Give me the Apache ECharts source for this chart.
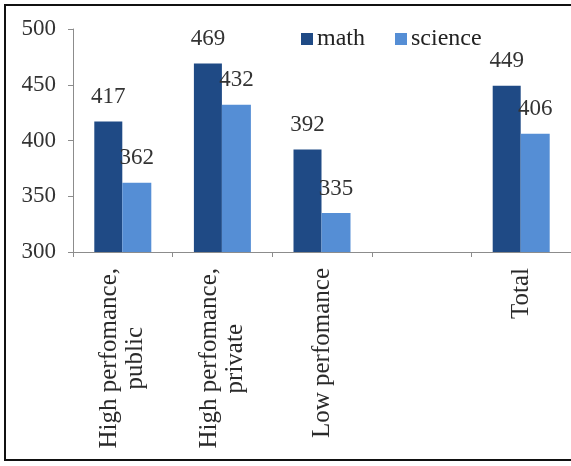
<!DOCTYPE html>
<html>
<head>
<meta charset="utf-8">
<script src="https://cdn.jsdelivr.net/npm/echarts@6/dist/echarts.min.js"></script>
<style>
html,body{margin:0;padding:0;background:#fff;}
#frame{position:absolute;left:4px;top:4px;width:580px;height:457px;border:2px solid #111;border-right:none;box-sizing:border-box;}
#c{position:absolute;left:0;top:0;width:571px;height:466px;}
</style>
</head>
<body>
<div id="frame"></div>
<div id="c"></div>
<script>
const categories = ['High perfomance,\npublic', 'High perfomance,\nprivate', 'Low perfomance', '', 'Total'];
const mathValues = [417, 469, 392, null, 449];
const scienceValues = [362, 432, 335, null, 406];
const yTicks = [300, 350, 400, 450, 500];

const serif = '"Liberation Serif", "Times New Roman", serif';
const xFontSize = 25;
const chart = echarts.init(document.getElementById('c'), null, {renderer: 'canvas'});

// measure widths so that the lines of a multi-line label appear centred
const ctx = document.createElement('canvas').getContext('2d');
ctx.font = xFontSize + 'px ' + serif;
function lineWidth(s) { return ctx.measureText(s).width; }

function centreLines(v) {
  const parts = v.split('\n');
  if (parts.length === 1) return v;
  const w = Math.max.apply(null, parts.map(lineWidth));
  return parts.map(function (p, i) {
    const pad = Math.round((w - lineWidth(p)) / 2);
    return '{l' + (pad > 0 ? 'p' + pad : '0') + '|' + p + '}';
  }).join('\n');
}

// build rich styles with right padding (text is right-aligned when rotated)
const rich = {l0: {fontFamily: serif, fontSize: xFontSize, color: '#2a2a2a', lineHeight: 26}};
categories.forEach(function (v) {
  const parts = v.split('\n');
  if (parts.length === 1) return;
  const w = Math.max.apply(null, parts.map(lineWidth));
  parts.forEach(function (p) {
    const pad = Math.round((w - lineWidth(p)) / 2);
    if (pad > 0) rich['lp' + pad] = {fontFamily: serif, fontSize: xFontSize, color: '#2a2a2a', lineHeight: 26, padding: [0, pad, 0, 0]};
  });
});

const valueLabel = {
  show: true, position: 'top', distance: 13,
  fontFamily: serif, fontSize: 23, color: '#333'
};

chart.setOption({
  backgroundColor: 'transparent',
  animation: false,
  grid: {left: 73, right: -2, top: 29, bottom: 214, containLabel: false},
  legend: {
    left: 296, top: 22, itemWidth: 12, itemHeight: 12, itemGap: 30,
    icon: 'rect',
    textStyle: {fontFamily: serif, fontSize: 24, color: '#222', padding: [0, 0, 0, -1]},
    data: ['math', 'science']
  },
  xAxis: {
    type: 'category',
    data: categories,
    axisLine: {lineStyle: {color: '#8c8c8c', width: 1}},
    axisTick: {show: true, alignWithLabel: false, length: 5, lineStyle: {color: '#8c8c8c'}},
    axisLabel: {
      rotate: 90, margin: 16, interval: 0,
      fontFamily: serif, fontSize: xFontSize, color: '#2a2a2a', lineHeight: 26,
      formatter: centreLines,
      rich: rich
    }
  },
  yAxis: {
    type: 'value', min: 300, max: 500, interval: 50,
    splitLine: {show: false},
    axisLine: {show: true, lineStyle: {color: '#8c8c8c'}},
    axisTick: {show: true, length: 5, lineStyle: {color: '#8c8c8c'}},
    axisLabel: {
      margin: 17, fontFamily: serif, fontSize: 23, color: '#333',
      customValues: yTicks
    }
  },
  series: [
    {
      name: 'math', type: 'bar', data: mathValues,
      barWidth: 28, barGap: '0%',
      itemStyle: {color: '#1f4a85'},
      label: valueLabel
    },
    {
      name: 'science', type: 'bar', data: scienceValues,
      barWidth: 29, barGap: '0%',
      itemStyle: {color: '#558ed5'},
      label: valueLabel
    }
  ]
});
</script>
</body>
</html>
